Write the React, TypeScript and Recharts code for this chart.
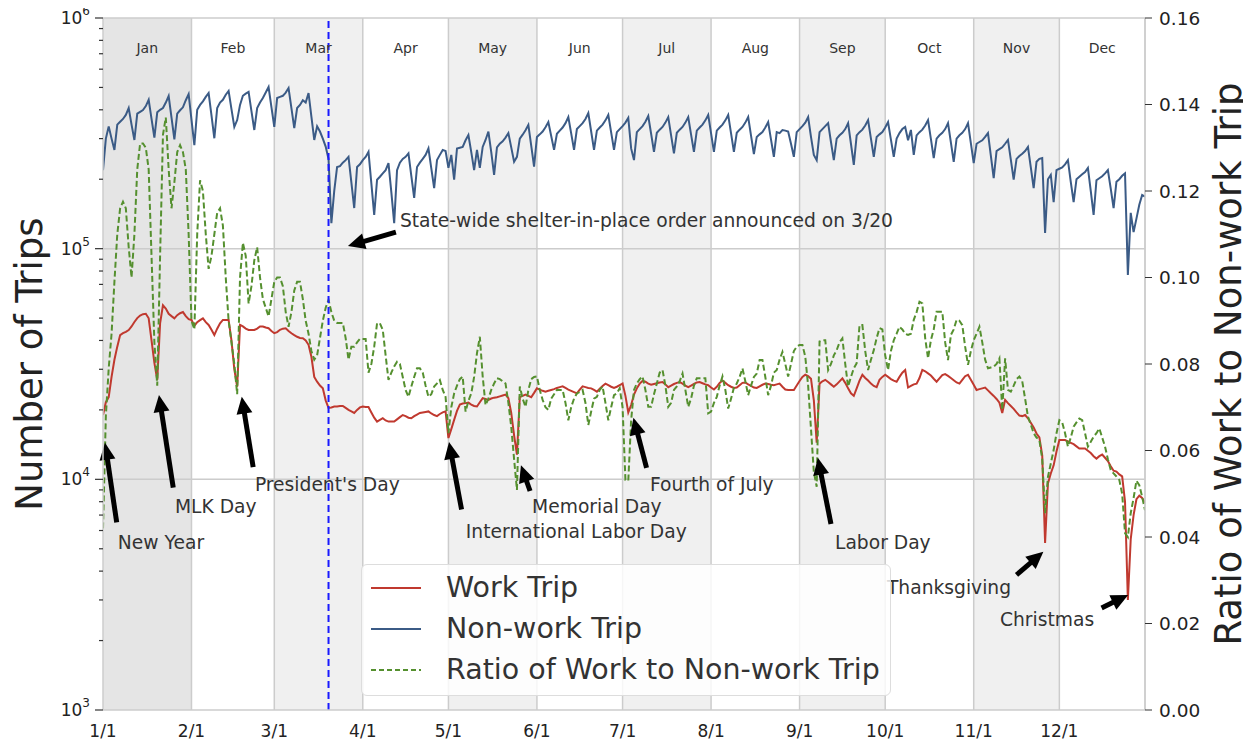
import React from 'react';
import {
  ComposedChart,
  Line,
  XAxis,
  YAxis,
  ReferenceArea,
  ReferenceLine,
  ReferenceDot,
  Legend,
} from 'recharts';

// ---------------- categories / ticks ----------------
const monthNames = ['Jan', 'Feb', 'Mar', 'Apr', 'May', 'Jun', 'Jul', 'Aug', 'Sep', 'Oct', 'Nov', 'Dec'];
const monthStartDays = [0, 31, 60, 91, 121, 152, 182, 213, 244, 274, 305, 335];
const monthTickLabels = ['1/1', '2/1', '3/1', '4/1', '5/1', '6/1', '7/1', '8/1', '9/1', '10/1', '11/1', '12/1'];
const lastDay = 365;
const shelterDay = 79;

const leftMajorTicks = [1000, 10000, 100000, 1000000];
const leftMinorTicks = [
  2000, 3000, 4000, 5000, 6000, 7000, 8000, 9000,
  20000, 30000, 40000, 50000, 60000, 70000, 80000, 90000,
  200000, 300000, 400000, 500000, 600000, 700000, 800000, 900000,
];
const leftExponents = ['3', '4', '5', '6'];
const rightTicks = [0, 0.02, 0.04, 0.06, 0.08, 0.1, 0.12, 0.14, 0.16];

// ---------------- series (daily, 2020-01-01 .. 2020-12-31) ----------------
// Work trips, thousands
const workTripsK = [
  19.0, 21.6, 22.7, 27.8, 33.0, 37.6, 42.2, 43.0, 43.6, 44.4,
  46.0, 48.1, 50.0, 51.3, 52.0, 52.2, 49.9, 40.0, 32.0, 27.0,
  47.4, 56.8, 55.0, 52.2, 51.0, 49.9, 51.5, 52.5, 53.1, 51.0,
  49.5, 49.1, 46.3, 48.0, 49.0, 49.9, 48.0, 46.7, 44.5, 42.2,
  45.0, 47.5, 49.1, 49.1, 49.1, 40.0, 30.0, 25.2, 46.7, 46.0,
  45.0, 44.4, 44.4, 44.4, 45.0, 46.0, 46.0, 45.5, 45.2, 44.0,
  43.0, 43.5, 44.5, 45.0, 45.2, 44.0, 43.0, 42.2, 41.5, 41.0,
  40.9, 40.0, 38.3, 34.0, 27.8, 26.5, 25.5, 24.8, 22.0, 20.4,
  20.5, 20.7, 20.7, 20.8, 20.8, 20.4, 20.0, 19.7, 19.4, 20.0,
  20.5, 20.7, 20.6, 20.6, 19.5, 18.5, 17.8, 18.1, 18.4, 18.0,
  17.8, 17.8, 17.8, 18.2, 18.6, 19.0, 18.8, 18.5, 18.4, 18.8,
  19.1, 19.4, 19.5, 19.6, 19.7, 19.3, 19.0, 18.8, 19.2, 19.5,
  19.7, 15.1, 16.5, 18.1, 19.8, 21.1, 21.3, 21.4, 21.5, 21.1,
  20.8, 20.7, 21.6, 22.5, 22.3, 22.1, 22.4, 22.6, 22.7, 22.9,
  23.1, 23.3, 22.5, 19.4, 15.5, 12.8, 22.7, 23.0, 23.3, 23.0,
  22.7, 23.7, 24.8, 24.5, 24.2, 24.0, 24.2, 24.4, 24.6, 24.9,
  25.1, 25.3, 24.9, 24.5, 24.2, 23.9, 23.6, 24.5, 25.3, 25.1,
  24.9, 24.8, 24.4, 24.0, 24.7, 25.4, 26.0, 25.6, 25.2, 24.9,
  25.2, 25.6, 26.0, 23.0, 19.5, 21.0, 23.3, 24.8, 26.0, 26.7,
  26.5, 26.0, 25.7, 25.9, 26.1, 26.3, 26.4, 25.8, 25.1, 25.5,
  25.9, 26.2, 26.4, 26.0, 25.5, 25.1, 25.5, 25.9, 26.3, 26.4,
  26.1, 25.8, 25.6, 25.0, 24.5, 25.2, 26.2, 26.8, 26.2, 25.6,
  25.2, 24.9, 25.0, 25.6, 26.2, 26.3, 25.8, 25.4, 25.0, 24.9,
  25.3, 25.7, 26.0, 25.9, 25.7, 25.6, 25.8, 26.0, 25.2, 24.5,
  24.4, 24.4, 24.4, 25.5, 26.7, 27.8, 28.4, 28.0, 27.3, 22.0,
  14.4, 26.0, 26.6, 27.0, 26.4, 25.8, 25.2, 25.8, 26.6, 27.4,
  26.2, 24.8, 23.6, 23.0, 24.8, 26.8, 28.4, 27.5, 26.8, 26.0,
  25.4, 25.1, 27.0, 27.8, 28.4, 27.8, 27.2, 26.8, 26.5, 27.8,
  29.0, 29.8, 25.0, 25.4, 25.8, 26.0, 27.5, 29.8, 29.4, 28.8,
  28.2, 27.3, 26.5, 27.4, 28.3, 28.6, 28.1, 27.5, 26.9, 26.3,
  26.0, 27.0, 28.0, 28.4, 27.0, 25.7, 24.4, 24.6, 24.8, 25.0,
  24.3, 23.6, 23.0, 22.3, 21.5, 19.4, 22.1, 21.4, 20.8, 20.2,
  19.5, 18.9, 18.8, 19.0, 18.4, 17.6, 16.8, 15.8, 15.2, 12.7,
  5.3, 9.6, 10.6, 11.5, 13.2, 14.8, 14.8, 14.8, 14.6, 14.4,
  14.2, 13.9, 13.6, 13.6, 13.6, 13.3, 13.0, 12.6, 12.3, 12.6,
  12.8, 12.4, 12.0, 11.4, 10.9, 10.8, 10.5, 10.3, 8.0, 3.0,
  5.5, 7.0, 8.2, 8.5, 8.3, 7.9,
];

// Non-work trips, thousands
const nonWorkTripsK = [
  219, 300, 339, 300, 268,
  345, 355, 365, 380, 407, 345, 296,
  385, 392, 399, 415, 442, 365, 303,
  390, 400, 407, 430, 459, 370, 298,
  385, 398, 410, 440, 468, 362, 281,
  400, 420, 435, 455, 473, 378, 301,
  407, 430, 442, 465, 483, 403, 337,
  361, 420, 460, 470, 478, 395, 327,
  407, 430, 450, 475, 502, 411, 337,
  450, 455, 460, 475, 497, 407, 333,
  407, 420, 440, 430, 473, 374, 296,
  339, 322, 300, 277, 245, 129, 178,
  226, 228, 236, 242, 250, 194, 150,
  226, 232, 242, 250, 263, 192, 140,
  199, 205, 212, 219, 235, 176, 129,
  219, 236, 245, 250, 259, 207, 166,
  226, 236, 245, 255, 272, 223, 183,
  242, 255, 268, 265, 224, 255, 199,
  272, 274, 276, 295, 311, 262, 219,
  268, 224, 276, 296, 322, 262, 209,
  275, 285, 292, 303, 317, 275, 238,
  250, 300, 312, 326, 344, 280, 227,
  305, 313, 322, 336, 354, 308, 268,
  315, 325, 335, 350, 372, 316, 268,
  330, 340, 350, 365, 387, 322, 268,
  325, 335, 345, 360, 380, 319, 268,
  320, 330, 340, 352, 369, 272, 242,
  320, 330, 340, 355, 376, 315, 263,
  318, 328, 337, 352, 372, 310, 259,
  318, 328, 337, 352, 372, 312, 263,
  325, 335, 345, 360, 380, 316, 263,
  325, 335, 345, 360, 380, 316, 263,
  318, 328, 337, 352, 372, 309, 257,
  305, 313, 320, 335, 354, 297, 250,
  320, 317, 327, 325, 322, 285, 250,
  320, 330, 340, 352, 372, 305, 255,
  242, 320, 330, 340, 350, 290, 242,
  300, 310, 318, 330, 350, 285, 231,
  310, 320, 328, 342, 361, 300, 250,
  305, 313, 320, 335, 354, 297, 250,
  300, 317, 330, 337, 295, 327, 255,
  310, 320, 328, 342, 361, 299, 247,
  300, 310, 318, 330, 350, 289, 238,
  300, 310, 318, 330, 350, 287, 235,
  285, 290, 295, 305, 317, 253, 202,
  265, 270, 275, 285, 296, 243, 199,
  245, 252, 258, 265, 276, 225, 183,
  238, 245, 247, 117, 200, 209, 159,
  219, 222, 225, 232, 242, 195, 159,
  200, 205, 210, 215, 224, 178, 140,
  198, 202, 206, 212, 219, 182, 150,
  195, 200, 207, 212, 77, 143, 118,
  135, 155, 171, 168,
];

// Ratio of work to non-work trip (right axis)
const workRatio = [
  0.042, 0.068, 0.079, 0.087, 0.099, 0.110, 0.116, 0.1175, 0.116, 0.107,
  0.100, 0.110, 0.125, 0.131, 0.131, 0.130, 0.125, 0.105, 0.085, 0.075,
  0.105, 0.133, 0.137, 0.125, 0.116, 0.122, 0.129, 0.1306, 0.129, 0.125,
  0.110, 0.090, 0.088, 0.110, 0.1225, 0.120, 0.110, 0.102, 0.105, 0.110,
  0.115, 0.116, 0.112, 0.100, 0.090, 0.085, 0.080, 0.073, 0.100, 0.108,
  0.105, 0.094, 0.098, 0.104, 0.107, 0.100, 0.095, 0.093, 0.091, 0.095,
  0.099, 0.100, 0.100, 0.098, 0.092, 0.0886, 0.092, 0.097, 0.099, 0.099,
  0.095, 0.090, 0.087, 0.083, 0.081, 0.082, 0.086, 0.090, 0.093, 0.0948,
  0.092, 0.090, 0.0895, 0.0895, 0.0895, 0.086, 0.081, 0.084, 0.084, 0.085,
  0.0858, 0.0858, 0.0858, 0.078, 0.080, 0.084, 0.0894, 0.0894, 0.0879, 0.082,
  0.0763, 0.078, 0.0794, 0.0805, 0.080, 0.077, 0.074, 0.0724, 0.0748, 0.077,
  0.079, 0.079, 0.078, 0.075, 0.0724, 0.073, 0.0748, 0.0755, 0.0763, 0.074,
  0.0724, 0.064, 0.070, 0.0732, 0.075, 0.0765, 0.0771, 0.069, 0.0715, 0.0732,
  0.077, 0.0825, 0.0863, 0.0771, 0.0705, 0.072, 0.074, 0.0755, 0.0767, 0.0765,
  0.076, 0.0755, 0.071, 0.0655, 0.058, 0.0509, 0.0748, 0.072, 0.0701, 0.074,
  0.0765, 0.077, 0.0771, 0.074, 0.0717, 0.070, 0.0694, 0.072, 0.073, 0.074,
  0.074, 0.074, 0.071, 0.067, 0.070, 0.072, 0.0732, 0.0735, 0.074, 0.071,
  0.0659, 0.069, 0.072, 0.0724, 0.074, 0.0748, 0.071, 0.067, 0.070, 0.0728,
  0.0732, 0.0744, 0.070, 0.0532, 0.053, 0.067, 0.074, 0.0755, 0.0765, 0.0771,
  0.074, 0.0701, 0.0701, 0.073, 0.0755, 0.078, 0.0786, 0.075, 0.0701, 0.071,
  0.074, 0.0748, 0.076, 0.0778, 0.074, 0.0701, 0.072, 0.075, 0.0767, 0.0767,
  0.0767, 0.0767, 0.0686, 0.069, 0.071, 0.0724, 0.075, 0.0771, 0.074, 0.0697,
  0.072, 0.0745, 0.0755, 0.077, 0.079, 0.076, 0.0728, 0.075, 0.077, 0.0778,
  0.0809, 0.0809, 0.077, 0.0728, 0.075, 0.078, 0.0786, 0.081, 0.0828, 0.080,
  0.0771, 0.080, 0.083, 0.084, 0.0844, 0.0844, 0.0817, 0.075, 0.065, 0.055,
  0.0516, 0.0852, 0.0855, 0.0855, 0.0786, 0.080, 0.082, 0.0832, 0.085, 0.0859,
  0.080, 0.0748, 0.077, 0.079, 0.0802, 0.089, 0.089, 0.083, 0.0786, 0.081,
  0.0832, 0.086, 0.0883, 0.088, 0.082, 0.0786, 0.083, 0.0855, 0.087, 0.0886,
  0.088, 0.087, 0.0867, 0.087, 0.0902, 0.092, 0.0944, 0.094, 0.086, 0.0813,
  0.0855, 0.088, 0.0921, 0.0921, 0.0921, 0.085, 0.0809, 0.0867, 0.088, 0.0902,
  0.090, 0.089, 0.084, 0.0798, 0.083, 0.0855, 0.087, 0.0886, 0.085, 0.081,
  0.079, 0.0792, 0.0794, 0.080, 0.0813, 0.0694, 0.0813, 0.074, 0.0736, 0.075,
  0.0765, 0.0771, 0.076, 0.072, 0.0678, 0.066, 0.064, 0.063, 0.0624, 0.058,
  0.0455, 0.0539, 0.057, 0.0601, 0.064, 0.067, 0.0665, 0.064, 0.0609, 0.063,
  0.0655, 0.0665, 0.0674, 0.067, 0.064, 0.0609, 0.062, 0.0632, 0.064, 0.0651,
  0.063, 0.0609, 0.058, 0.0555, 0.0547, 0.054, 0.0532, 0.050, 0.0409, 0.040,
  0.0455, 0.049, 0.053, 0.052, 0.0493, 0.0462,
];

// ---------------- annotations (data coordinates: day index, trips) ----------------
const holidayNotes = [
  { text: 'New Year', textDay: 5.2, textTrips: 5300, tailDay: 4.8, tailTrips: 6500, headDay: 0.7, headTrips: 14400 },
  { text: 'MLK Day', textDay: 25.2, textTrips: 7590, tailDay: 24.6, tailTrips: 9200, headDay: 19.6, headTrips: 23200 },
  { text: "President's Day", textDay: 53.2, textTrips: 9460, tailDay: 52.6, tailTrips: 11300, headDay: 48.6, headTrips: 22800 },
  { text: 'International Labor Day', textDay: 127.1, textTrips: 5970, tailDay: 125.6, tailTrips: 7400, headDay: 121.2, headTrips: 14500 },
  { text: 'Memorial Day', textDay: 150.3, textTrips: 7590, tailDay: 149.6, tailTrips: 8900, headDay: 146.4, headTrips: 11500 },
  { text: 'Fourth of July', textDay: 191.6, textTrips: 9460, tailDay: 190.4, tailTrips: 11200, headDay: 185.8, headTrips: 18500 },
  { text: 'Labor Day', textDay: 256.4, textTrips: 5300, tailDay: 255.0, tailTrips: 6400, headDay: 250.4, headTrips: 12400 },
  { text: 'Thanksgiving', textDay: 274.6, textTrips: 3380, tailDay: 320.0, tailTrips: 3850, headDay: 329.4, headTrips: 4850 },
  { text: 'Christmas', textDay: 314.2, textTrips: 2480, tailDay: 349.8, tailTrips: 2770, headDay: 359.1, headTrips: 3150 },
  { text: 'State-wide shelter-in-place order announced on 3/20', textDay: 104.0, textTrips: 133000, tailDay: 102.6, tailTrips: 118000, headDay: 85.8, headTrips: 102700 },
];

// ---------------- styles ----------------
const FONT = '"DejaVu Sans", Verdana, sans-serif';
const workColor = '#c0392f';
const nonWorkColor = '#3b5b86';
const ratioColor = '#55902f';
const gridColor = '#cccccc';
const monthShade = ['#e5e5e5', '#ffffff', '#f0f0f0', '#ffffff', '#f0f0f0', '#ffffff', '#f0f0f0', '#ffffff', '#f0f0f0', '#ffffff', '#f0f0f0', '#ffffff'];

const CHART_W = 1251;
const CHART_H = 742;
const PLOT_LEFT = 103;
const X_LABEL_Y = 731;

const tableData = workTripsK.map((w, i) => ({
  d: i,
  work: w * 1000,
  nonwork: nonWorkTripsK[i] * 1000,
  ratio: workRatio[i],
}));

const LeftTick = (props: any) => {
  const { y, payload } = props;
  const v = payload.value;
  const majorIdx = leftMajorTicks.indexOf(v);
  const isMajor = majorIdx >= 0;
  return (
    <g>
      <line x1={PLOT_LEFT - (isMajor ? 8 : 4)} x2={PLOT_LEFT} y1={y} y2={y} stroke="#333" strokeWidth={1.2} />
      {isMajor && (
        <text x={PLOT_LEFT - 13} y={y + 6} textAnchor="end" fill="#222" fontSize={17} fontFamily={FONT}>
          <tspan>10</tspan>
          <tspan dy={-9} fontSize={12}>{leftExponents[majorIdx]}</tspan>
        </text>
      )}
    </g>
  );
};

const BottomTick = (props: any) => {
  const { x, payload } = props;
  const idx = monthStartDays.indexOf(payload.value);
  return (
    <text x={x} y={X_LABEL_Y} textAnchor="middle" dominantBaseline="central" fill="#222" fontSize={17} fontFamily={FONT}>
      {monthTickLabels[idx]}
    </text>
  );
};

const ArrowShape = (props: any) => {
  const { x1, y1, x2, y2 } = props;
  if ([x1, y1, x2, y2].some((v) => typeof v !== 'number' || isNaN(v))) return <g />;
  const dx = x2 - x1;
  const dy = y2 - y1;
  const len = Math.hypot(dx, dy) || 1;
  const ux = dx / len;
  const uy = dy / len;
  const headLen = 17;
  const headW = 8;
  const bx = x2 - ux * headLen;
  const by = y2 - uy * headLen;
  const px = -uy;
  const py = ux;
  return (
    <g>
      <line x1={x1} y1={y1} x2={bx + ux * 2} y2={by + uy * 2} stroke="#000" strokeWidth={5} />
      <polygon
        points={`${x2},${y2} ${bx + px * headW},${by + py * headW} ${bx - px * headW},${by - py * headW}`}
        fill="#000"
      />
    </g>
  );
};

const legendItems = [
  { label: 'Work Trip', color: workColor, dash: undefined as string | undefined },
  { label: 'Non-work Trip', color: nonWorkColor, dash: undefined as string | undefined },
  { label: 'Ratio of Work to Non-work Trip', color: ratioColor, dash: '5 3' },
];

const LegendBox = () => (
  <div
    style={{
      boxSizing: 'border-box',
      width: 530,
      height: 132,
      background: 'rgba(255,255,255,0.82)',
      border: '1px solid #dddddd',
      borderRadius: 6,
      padding: '2px 0 0 8px',
      fontFamily: FONT,
      fontSize: 28.5,
      color: '#333',
    }}
  >
    {legendItems.map((it) => (
      <div key={it.label} style={{ display: 'flex', alignItems: 'center', height: 41 }}>
        <svg width={52} height={10} style={{ display: 'block' }}>
          <line x1={1} y1={5} x2={51} y2={5} stroke={it.color} strokeWidth={2} strokeDasharray={it.dash} />
        </svg>
        <span style={{ marginLeft: 24, lineHeight: '41px', whiteSpace: 'nowrap' }}>{it.label}</span>
      </div>
    ))}
  </div>
);

export default function App() {
  return (
    <div style={{ width: CHART_W, height: CHART_H, fontFamily: FONT, position: 'relative', margin: '-8px 0 0 -8px' }}>
      <ComposedChart
        width={CHART_W}
        height={CHART_H}
        data={tableData}
        margin={{ top: 18, right: 6, bottom: 2, left: 0 }}
      >
        <XAxis
          dataKey="d"
          type="number"
          domain={[0, lastDay]}
          ticks={monthStartDays}
          interval={0}
          tickLine={false}
          axisLine={{ stroke: gridColor, strokeWidth: 1.5 }}
          tick={(p: any) => <BottomTick {...p} />}
          height={30}
          allowDataOverflow
        />
        <YAxis
          yAxisId="left"
          scale="log"
          domain={[1000, 1000000]}
          ticks={[...leftMajorTicks, ...leftMinorTicks]}
          allowDataOverflow
          width={103}
          tickLine={false}
          axisLine={{ stroke: gridColor, strokeWidth: 1.5 }}
          tick={(p: any) => <LeftTick {...p} />}
          interval={0}
          label={{
            content: () => (
              <text
                x={29}
                y={364}
                transform="rotate(-90 29 364)"
                textAnchor="middle"
                dominantBaseline="central"
                fontSize={37}
                fill="#222"
                fontFamily={FONT}
              >
                Number of Trips
              </text>
            ),
          }}
        />
        <YAxis
          yAxisId="right"
          orientation="right"
          domain={[0, 0.16]}
          ticks={rightTicks}
          interval={0}
          width={100}
          tickSize={7}
          tickMargin={7}
          tickLine={{ stroke: '#333' }}
          axisLine={{ stroke: gridColor, strokeWidth: 1.5 }}
          tick={{ fill: '#222', fontSize: 18.5, fontFamily: FONT }}
          tickFormatter={(v: number) => v.toFixed(2)}
          label={{
            content: () => (
              <text
                x={1228}
                y={364}
                transform="rotate(-90 1228 364)"
                textAnchor="middle"
                dominantBaseline="central"
                fontSize={37}
                fill="#222"
                fontFamily={FONT}
              >
                Ratio of Work to Non-work Trip
              </text>
            ),
          }}
        />

        {monthNames.map((m, i) => (
          <ReferenceArea
            key={m}
            yAxisId="left"
            x1={monthStartDays[i]}
            x2={i < 11 ? monthStartDays[i + 1] : lastDay}
            fill={monthShade[i]}
            fillOpacity={1}
            stroke="none"
            ifOverflow="visible"
            label={{ value: m, position: 'insideTop', offset: 25, fill: '#333', fontSize: 14, fontFamily: FONT }}
          />
        ))}

        {monthStartDays.slice(1).map((d) => (
          <ReferenceLine key={'v' + d} yAxisId="left" x={d} stroke={gridColor} strokeWidth={1.5} />
        ))}
        <ReferenceLine yAxisId="left" x={lastDay} stroke={gridColor} strokeWidth={1.5} ifOverflow="visible" />
        <ReferenceLine yAxisId="left" y={10000} stroke={gridColor} strokeWidth={1.5} />
        <ReferenceLine yAxisId="left" y={100000} stroke={gridColor} strokeWidth={1.5} />
        <ReferenceLine yAxisId="left" y={1000000} stroke={gridColor} strokeWidth={1.5} ifOverflow="visible" />

        <Line
          yAxisId="left"
          type="linear"
          dataKey="nonwork"
          name="Non-work Trip"
          stroke={nonWorkColor}
          strokeWidth={2}
          dot={false}
          activeDot={false}
          isAnimationActive={false}
        />
        <Line
          yAxisId="left"
          type="linear"
          dataKey="work"
          name="Work Trip"
          stroke={workColor}
          strokeWidth={2}
          dot={false}
          activeDot={false}
          isAnimationActive={false}
        />
        <Line
          yAxisId="right"
          type="linear"
          dataKey="ratio"
          name="Ratio of Work to Non-work Trip"
          stroke={ratioColor}
          strokeWidth={2}
          strokeDasharray="6 3"
          dot={false}
          activeDot={false}
          isAnimationActive={false}
        />

        <ReferenceLine
          yAxisId="left"
          x={shelterDay}
          stroke="#1a1aff"
          strokeWidth={2}
          strokeDasharray="7 4"
        />

        {holidayNotes.map((a) => (
          <ReferenceLine
            key={'arrow-' + a.text}
            yAxisId="left"
            ifOverflow="visible"
            segment={[
              { x: a.tailDay, y: a.tailTrips },
              { x: a.headDay, y: a.headTrips },
            ]}
            shape={(p: any) => <ArrowShape {...p} />}
          />
        ))}
        {holidayNotes.map((a) => (
          <ReferenceDot
            key={'text-' + a.text}
            yAxisId="left"
            x={a.textDay}
            y={a.textTrips}
            ifOverflow="visible"
            shape={(p: any) => (
              <text x={p.cx} y={p.cy} dominantBaseline="central" fontSize={18.7} fill="#333" fontFamily={FONT}>
                {a.text}
              </text>
            )}
          />
        ))}

        <Legend
          layout="vertical"
          align="center"
          verticalAlign="middle"
          content={() => <LegendBox />}
          wrapperStyle={{ left: 361, top: 564, width: 530, height: 132 }}
        />
      </ComposedChart>
    </div>
  );
}
